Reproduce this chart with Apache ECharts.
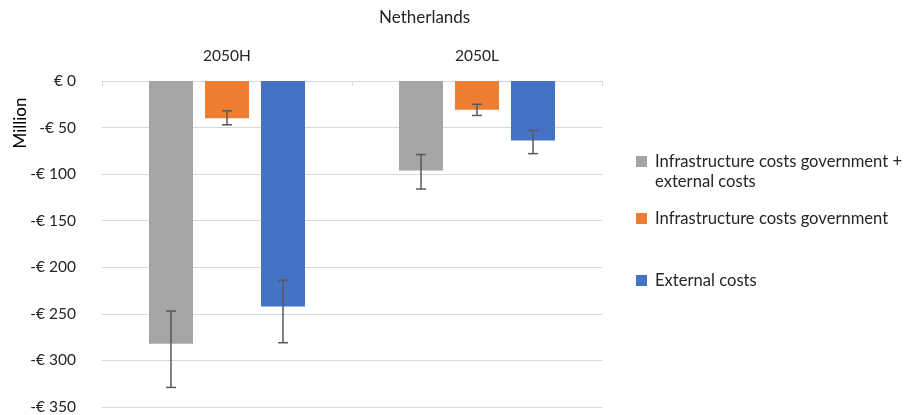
<!DOCTYPE html>
<html>
<head>
<meta charset="utf-8">
<script src="https://cdn.jsdelivr.net/npm/echarts@6/dist/echarts.min.js"></script>
<style>html,body{margin:0;padding:0;background:#fff}#c{width:917px;height:415px}</style>
</head>
<body>
<div id="c"></div>
<script>
const categories = ['2050H', '2050L'];
const groupTitle = 'Netherlands';
const seriesNames = ['Infrastructure costs government + external costs', 'Infrastructure costs government', 'External costs'];
const totalValues = [-282, -96];
const totalErrHigh = [-247, -79];
const totalErrLow = [-329, -116];
const infraValues = [-40, -31];
const infraErrHigh = [-32, -25];
const infraErrLow = [-47, -37];
const externalValues = [-242, -64];
const externalErrHigh = [-214, -53];
const externalErrLow = [-281, -78];
const yTicks = [0, -50, -100, -150, -200, -250, -300, -350];

const colors = ['#A5A5A5', '#ED7D31', '#4472C4'];
const FONT = 'Lato';
const BAR_W = 44, BAR_GAP = 12;

const values = [totalValues, infraValues, externalValues];
const errHigh = [totalErrHigh, infraErrHigh, externalErrHigh];
const errLow = [totalErrLow, infraErrLow, externalErrLow];

const chart = echarts.init(document.getElementById('c'));

const barSeries = values.map((v, i) => ({
  name: seriesNames[i],
  type: 'bar',
  data: v,
  barWidth: BAR_W,
  barGap: (BAR_GAP / BAR_W * 100) + '%',
  itemStyle: { color: colors[i] },
  z: 2
}));

const errSeries = values.map((v, i) => ({
  type: 'custom',
  silent: true,
  z: 5,
  data: categories.map((c, k) => [k, errHigh[i][k], errLow[i][k]]),
  encode: { x: 0, y: [1, 2] },
  renderItem: function (params, api) {
    const k = api.value(0);
    const p1 = api.coord([k, api.value(1)]);
    const p2 = api.coord([k, api.value(2)]);
    const x = p1[0] + (i - 1) * (BAR_W + BAR_GAP);
    const cap = 5;
    const st = { stroke: '#595959', lineWidth: 1.5 };
    return {
      type: 'group',
      children: [
        { type: 'line', shape: { x1: x, y1: p1[1], x2: x, y2: p2[1] }, style: st },
        { type: 'line', shape: { x1: x - cap, y1: p1[1], x2: x + cap, y2: p1[1] }, style: st },
        { type: 'line', shape: { x1: x - cap, y1: p2[1], x2: x + cap, y2: p2[1] }, style: st }
      ]
    };
  }
}));

const legendTops = [145, 202, 264];
const legends = seriesNames.map((n, i) => ({
  data: [n],
  orient: 'vertical',
  left: 631,
  top: legendTops[i],
  itemWidth: 11,
  itemHeight: 11,
  icon: 'rect',
  selectedMode: false,
  formatter: function (name) {
    return name === seriesNames[0] ? 'Infrastructure costs government +' : name;
  },
  textStyle: { fontFamily: FONT, fontSize: 16.6, color: '#262626', lineHeight: 23, padding: [0, 0, 0, 3] }
}));

chart.setOption({
  animation: false,
  grid: { left: 102, right: 315, top: 81, bottom: 7 },
  legend: legends,
  graphic: [
    { type: 'text', left: 379, top: 9, style: { text: groupTitle, font: '17px ' + FONT, fill: '#262626' } },
    { type: 'text', left: 655, top: 173, style: { text: 'external costs', font: '16.6px ' + FONT, fill: '#262626' } },
    { type: 'text', x: 12, y: 123, rotation: Math.PI / 2, style: { text: 'Million', font: '17px ' + FONT, fill: '#000', textAlign: 'center', textVerticalAlign: 'top' } }
  ],
  xAxis: {
    type: 'category',
    data: categories,
    position: 'top',
    axisLine: { show: true, lineStyle: { color: '#D9D9D9', width: 1 } },
    axisTick: { show: true, inside: true, length: 5, lineStyle: { color: '#D9D9D9' } },
    axisLabel: { fontFamily: FONT, fontSize: 15.5, color: '#262626', margin: 17 },
    splitLine: { show: false }
  },
  yAxis: {
    type: 'value',
    min: yTicks[yTicks.length - 1],
    max: yTicks[0],
    interval: 50,
    axisLine: { show: false },
    axisTick: { show: false },
    splitLine: { lineStyle: { color: '#D9D9D9', width: 1 } },
    axisLabel: {
      fontFamily: FONT, fontSize: 15.5, color: '#262626', margin: 26,
      formatter: function (v) { return v === 0 ? '€ 0' : '-€ ' + Math.abs(v); }
    }
  },
  series: barSeries.concat(errSeries)
});
</script>
</body>
</html>
